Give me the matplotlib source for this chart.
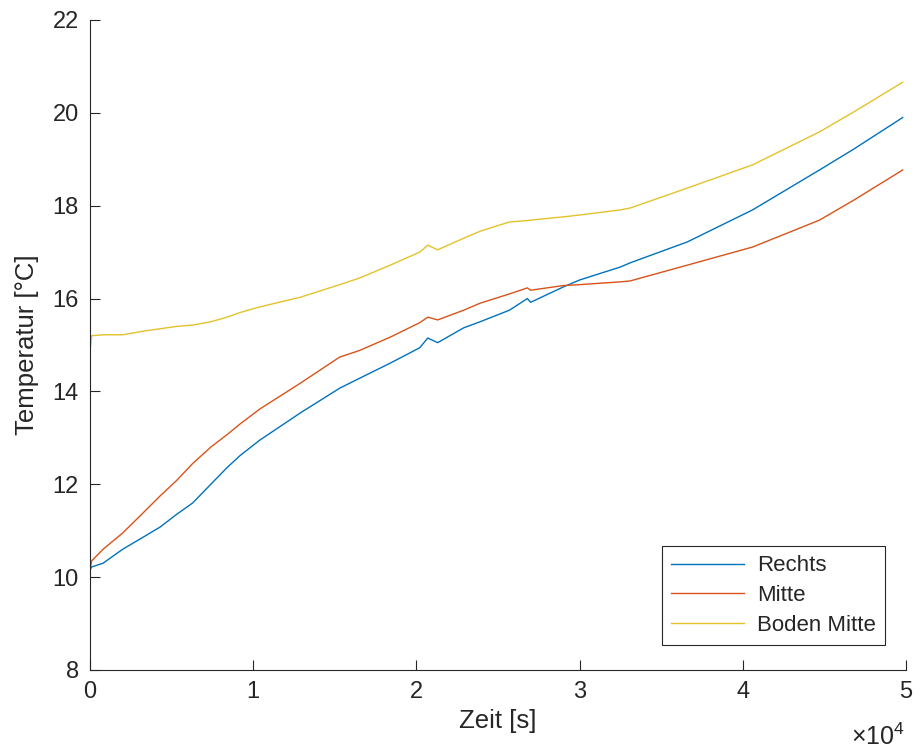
import matplotlib
matplotlib.use('Agg')
import matplotlib.pyplot as plt
from matplotlib.ticker import FuncFormatter

plt.rcParams['font.family'] = ['Liberation Sans', 'DejaVu Sans']
plt.rcParams['mathtext.fontset'] = 'custom'
plt.rcParams['mathtext.rm'] = 'Liberation Sans'

# Zeit in Sekunden, Temperaturen in °C
zeit = [0, 100, 800, 2000, 3300, 4300, 5300, 6300, 7400, 8400, 9200, 10400,
        12900, 15300, 16500, 18400, 20200, 20700, 21300, 22900, 23900, 25700,
        26800, 27000, 29000, 30000, 32500, 33100, 36600, 40600, 44700, 46800, 49800]
rechts = [10.15, 10.22, 10.3, 10.6, 10.87, 11.08, 11.35, 11.6, 12.0, 12.36, 12.62, 12.95,
          13.54, 14.07, 14.28, 14.61, 14.94, 15.15, 15.05, 15.37, 15.5, 15.75,
          16.0, 15.92, 16.25, 16.4, 16.68, 16.77, 17.22, 17.91, 18.77, 19.22, 19.9]
mitte = [10.15, 10.35, 10.6, 10.95, 11.4, 11.75, 12.08, 12.45, 12.8, 13.07, 13.3, 13.62,
         14.18, 14.74, 14.88, 15.17, 15.48, 15.6, 15.54, 15.75, 15.9, 16.1,
         16.23, 16.18, 16.28, 16.3, 16.36, 16.38, 16.72, 17.11, 17.69, 18.12, 18.77]
boden_mitte = [14.85, 15.2, 15.22, 15.22, 15.3, 15.35, 15.4, 15.43, 15.5, 15.6, 15.7, 15.82,
               16.03, 16.3, 16.44, 16.72, 17.0, 17.15, 17.05, 17.3, 17.45, 17.65,
               17.68, 17.69, 17.76, 17.8, 17.91, 17.95, 18.38, 18.88, 19.59, 20.02, 20.66]

labels = ['Rechts', 'Mitte', 'Boden Mitte']
farben = ['#0072BD', '#D95319', '#E3C22A']
axcol = '#262626'

fig = plt.figure(figsize=(9.22, 7.53), dpi=100)
ax = fig.add_axes([90/922, 83/753, 816/922, 650/753])

for y, lab, c in zip([rechts, mitte, boden_mitte], labels, farben):
    ax.plot(zeit, y, color=c, lw=1.0, label=lab)

ax.set_xlim(0, 50000)
ax.set_ylim(8, 22)
ax.set_xticks([0, 10000, 20000, 30000, 40000, 50000])
ax.set_yticks(range(8, 23, 2))
ax.xaxis.set_major_formatter(FuncFormatter(lambda v, p: '%d' % round(v / 1e4)))

for s in ['top', 'right']:
    ax.spines[s].set_visible(False)
for s in ['left', 'bottom']:
    ax.spines[s].set_color(axcol)
    ax.spines[s].set_linewidth(0.8)
ax.tick_params(direction='in', length=7, width=0.8, colors=axcol, labelsize=17, pad=8)

ax.set_xlabel('Zeit [s]', fontsize=18.5, color=axcol, labelpad=4)
ax.set_ylabel('Temperatur [°C]', fontsize=18.5, color=axcol, labelpad=10)

fig.text(905/922, 1 - 737/753, r'$\times10^{4}$', fontsize=18, color=axcol,
         ha='right', va='center')

leg = ax.legend(loc='lower right', bbox_to_anchor=(885/922, 108/753),
                bbox_transform=fig.transFigure, borderaxespad=0, fontsize=16,
                handlelength=3.3, labelspacing=0.4, fancybox=False, framealpha=1,
                edgecolor=axcol, borderpad=0.4, handletextpad=0.6)
leg.get_frame().set_linewidth(0.8)
for t in leg.get_texts():
    t.set_color(axcol)

fig.savefig('out.png', dpi=100)
